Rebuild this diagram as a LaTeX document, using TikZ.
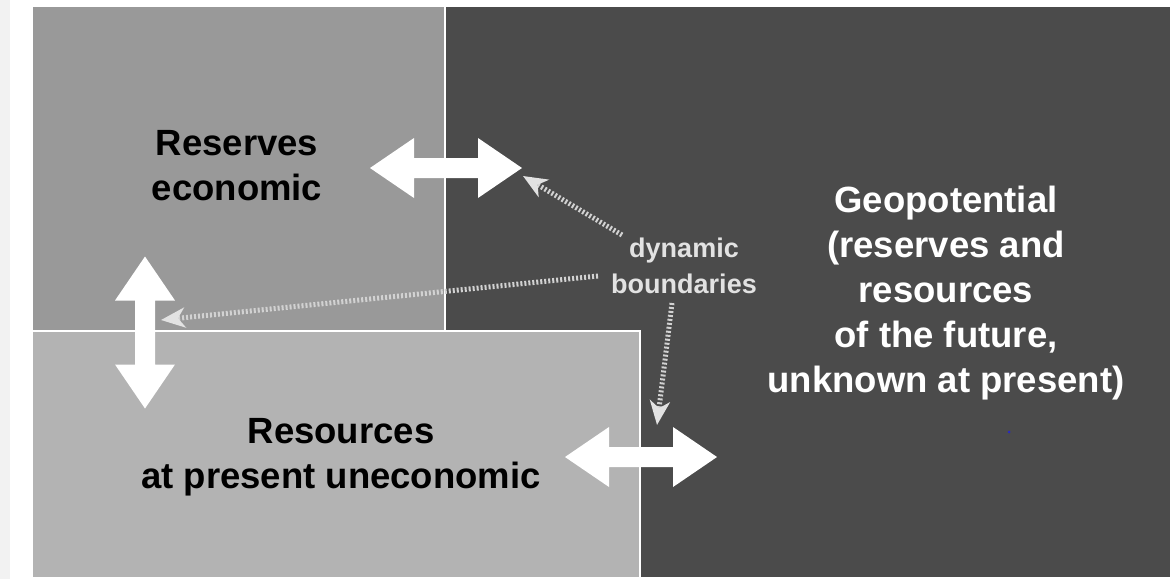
\documentclass[tikz,border=0pt]{standalone}
\usepackage{fontspec}
\setmainfont{Liberation Sans}
\usetikzlibrary{arrows.meta}
\definecolor{marginc}{HTML}{F2F2F2}
\definecolor{resv}{HTML}{999999}
\definecolor{reso}{HTML}{B3B3B3}
\definecolor{geo}{HTML}{4B4B4B}
\definecolor{dyn}{HTML}{D2D2D2}
\definecolor{dynhead}{HTML}{E2E2E2}
\definecolor{dotblue}{HTML}{2A2AC0}
\tikzset{
  sepline/.style={draw=white, line width=2.5pt},
  blockarrow/.pic={\fill[white] (-76,0) -- (-32,-30) -- (-32,-10) -- (32,-10) -- (32,-30) -- (76,0) -- (32,30) -- (32,10) -- (-32,10) -- (-32,30) -- cycle;},
  dotline/.style={draw=dyn, line width=5pt, dash pattern=on 2pt off 2pt,
    -{Stealth[length=24pt,width=20pt,inset=7pt,color=dynhead]}},
  biglabel/.style={font=\fontsize{36.5}{45}\selectfont\bfseries, align=center, inner sep=0pt, anchor=base},
  smalllabel/.style={font=\fontsize{27}{36}\selectfont\bfseries, align=center, inner sep=0pt, anchor=base, text=dynhead},
}
\begin{document}
\begin{tikzpicture}[x=1pt,y=-1pt]
\useasboundingbox (0,0) rectangle (1170,579);
\fill[white] (0,0) rectangle (1170,579);
\fill[marginc] (0,0) rectangle (10,579);
% regions
\fill[geo] (33,7) rectangle (1170,577);
\fill[resv] (33,7) rectangle (445,331);
\fill[reso] (33,331) rectangle (640,577);
\draw[sepline] (445,7) -- (445,331);
\draw[sepline] (33,331) -- (640,331) -- (640,577);
% block arrows
\pic at (446,168) {blockarrow};
\pic[rotate=90] at (145,332.5) {blockarrow};
\pic at (641,457) {blockarrow};
% labels (anchor = baseline of the last line)
\node[biglabel, text=black] (reserves) at (237,200) {Reserves\\economic};
\node[biglabel, text=black] (resources) at (341,488) {Resources\\at present uneconomic};
\node[biglabel, text=white] (geopot) at (946,392) {Geopotential\\(reserves and\\resources\\of the future,\\unknown at present)};
\node[smalllabel] (dynb) at (684,293) {dynamic\\boundaries};
% dotted connectors
\coordinate (a0) at (622,235);
\coordinate (a1) at (523,176);
\coordinate (b0) at (598,276);
\coordinate (b1) at (161,320);
\coordinate (c0) at (672,303);
\coordinate (c1) at (657,425);
\draw[dotline] (a0) -- (a1);
\draw[dotline] (b0) -- (b1);
\draw[dotline] (c0) -- (c1);
% small blue speck
\fill[dotblue] (1009,432) circle (1.5);
\end{tikzpicture}
\end{document}
